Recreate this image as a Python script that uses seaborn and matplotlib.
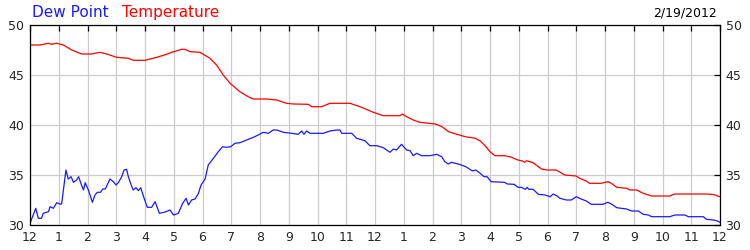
import matplotlib
matplotlib.use("Agg")
import matplotlib.pyplot as plt
import seaborn as sns
import pandas as pd

# Temperature (hours since midnight, degrees)
temp_hours = [0.0, 0.35, 0.64, 0.75, 0.93, 1.16, 1.45, 1.8, 2.14, 2.43, 2.67, 3.01, 3.42, 3.59, 4.0,
              4.41, 4.75, 4.93, 5.28, 5.39, 5.57, 5.91, 6.26, 6.49, 6.72, 6.96, 7.3, 7.59, 7.77, 8.23,
              8.58, 8.92, 9.16, 9.68, 9.8, 10.14, 10.43, 11.13, 11.48, 11.94, 12.29, 12.87, 12.95,
              13.1, 13.33, 13.56, 14.1, 14.33, 14.56, 14.85, 15.14, 15.49, 15.66, 15.83, 16.0, 16.17,
              16.5, 16.69, 16.97, 17.13, 17.2, 17.27, 17.5, 17.68, 17.79, 17.97, 18.3, 18.6, 19.0,
              19.12, 19.35, 19.46, 19.87, 20.1, 20.22, 20.41, 20.75, 20.87, 21.1, 21.33, 21.62,
              22.25, 22.43, 23.53, 23.77, 24.0]
temp_vals = [48.0, 48.0, 48.17, 48.07, 48.17, 48.0, 47.5, 47.1, 47.1, 47.27, 47.1, 46.77, 46.67, 46.47, 46.47,
             46.77, 47.07, 47.27, 47.57, 47.57, 47.33, 47.27, 46.67, 46.0, 45.0, 44.17, 43.33, 42.83, 42.6, 42.6,
             42.5, 42.17, 42.1, 42.07, 41.83, 41.83, 42.17, 42.17, 41.83, 41.27, 40.93, 40.93, 41.1,
             40.83, 40.5, 40.27, 40.1, 39.83, 39.33, 39.07, 38.83, 38.67, 38.4, 37.93, 37.33, 36.93,
             36.93, 36.83, 36.5, 36.4, 36.27, 36.43, 36.23, 35.83, 35.6, 35.5, 35.5, 35.0, 34.9,
             34.67, 34.4, 34.17, 34.17, 34.33, 34.17, 33.77, 33.67, 33.5, 33.5, 33.17, 32.9,
             32.9, 33.1, 33.1, 33.05, 32.83]

# Dew point (hours since midnight, degrees)
dew_hours = [0.0, 0.2, 0.29, 0.4, 0.46, 0.64, 0.7, 0.81, 0.93, 1.04, 1.1, 1.25, 1.33, 1.43, 1.51, 1.62,
             1.69, 1.8, 1.86, 1.92, 2.03, 2.17, 2.26, 2.34, 2.45, 2.53, 2.62, 2.78, 2.9, 2.99, 3.07,
             3.19, 3.27, 3.36, 3.42, 3.51, 3.59, 3.69, 3.77, 3.85, 3.97, 4.08, 4.23, 4.35, 4.5, 4.7,
             4.87, 4.99, 5.16, 5.31, 5.43, 5.51, 5.62, 5.74, 5.86, 5.95, 6.09, 6.2, 6.38, 6.55, 6.7,
             6.84, 6.98, 7.13, 7.3, 7.53, 7.77, 7.94, 8.11, 8.29, 8.46, 8.58, 8.81, 9.1, 9.33, 9.45,
             9.53, 9.62, 9.74, 10.2, 10.43, 10.66, 10.78, 10.84, 11.19, 11.36, 11.65, 11.82, 12.06,
             12.29, 12.52, 12.64, 12.75, 12.92, 13.1, 13.22, 13.33, 13.45, 13.62, 13.91, 14.14, 14.32,
             14.43, 14.55, 14.66, 14.93, 15.16, 15.39, 15.5, 15.66, 15.79, 15.9, 16.04, 16.5, 16.61,
             16.84, 16.97, 17.08, 17.23, 17.29, 17.35, 17.5, 17.68, 17.91, 18.09, 18.2, 18.32, 18.43,
             18.66, 18.83, 19.0, 19.17, 19.35, 19.52, 19.93, 20.1, 20.22, 20.41, 20.75, 20.93, 21.16,
             21.33, 21.51, 21.62, 22.25, 22.43, 22.78, 22.9, 23.42, 23.53, 23.77, 23.88, 24.0]
dew_vals = [30.17, 31.67, 30.67, 30.67, 31.17, 31.33, 31.83, 31.67, 32.23, 32.1, 32.1, 35.5, 34.6, 34.83, 34.27, 34.5,
            34.83, 33.93, 33.5, 34.23, 33.5, 32.27, 33.0, 33.27, 33.27, 33.6, 33.6, 34.6, 34.33, 34.0, 34.23,
            34.83, 35.5, 35.57, 34.83, 34.07, 33.5, 33.73, 33.43, 33.73, 32.67, 31.77, 31.77, 32.33, 31.17, 31.3,
            31.5, 31.0, 31.17, 32.17, 32.67, 32.0, 32.5, 32.6, 33.17, 34.0, 34.6, 36.0, 36.67, 37.33, 37.83,
            37.77, 37.83, 38.17, 38.23, 38.5, 38.77, 39.0, 39.27, 39.17, 39.5, 39.5, 39.27, 39.17, 39.07, 39.4,
            39.07, 39.4, 39.17, 39.17, 39.4, 39.5, 39.5, 39.17, 39.17, 38.67, 38.43, 37.93, 37.93,
            37.73, 37.27, 37.6, 37.5, 38.07, 37.5, 37.43, 36.93, 37.17, 36.93, 36.93, 37.07, 36.83,
            36.33, 36.1, 36.27, 36.07, 35.83, 35.4, 35.5, 35.17, 34.83, 34.83, 34.33, 34.27, 34.1,
            34.07, 33.77, 33.77, 33.57, 33.77, 33.57, 33.57, 33.07, 33.0, 32.83, 33.1, 32.93, 32.67,
            32.5, 32.5, 32.83, 32.6, 32.4, 32.07, 32.07, 32.27, 32.1, 31.73, 31.6, 31.4, 31.4,
            31.07, 31.0, 30.83, 30.83, 31.0, 31.0, 30.83, 30.83, 30.57, 30.5, 30.43, 30.27]

hour_labels = ["12", "1", "2", "3", "4", "5", "6", "7", "8", "9", "10", "11",
               "12", "1", "2", "3", "4", "5", "6", "7", "8", "9", "10", "11", "12"]
y_ticks = [30, 35, 40, 45, 50]

series_names = ["Dew Point", "Temperature"]
series_colors = ["#1a1aff", "#ff0000"]
date_label = "2/19/2012"

sns.set_style("white")
plt.rcParams["font.family"] = ["DejaVu Sans"]

fig = plt.figure(figsize=(7.5, 2.5), dpi=100)
ax = fig.add_axes([0.04, 0.1, 0.92, 0.8])

temp_df = pd.DataFrame({"hour": temp_hours, "value": temp_vals})
dew_df = pd.DataFrame({"hour": dew_hours, "value": dew_vals})
sns.lineplot(data=temp_df, x="hour", y="value", ax=ax, color=series_colors[1], linewidth=0.9)
sns.lineplot(data=dew_df, x="hour", y="value", ax=ax, color=series_colors[0], linewidth=0.9)

ax.set_xlim(0, 24)
ax.set_ylim(30, 50)
ax.set_xticks(range(len(hour_labels)))
ax.set_xticklabels(hour_labels)
ax.set_yticks(y_ticks)
ax.set_xlabel("")
ax.set_ylabel("")
ax.grid(True, color="#cccccc", linewidth=0.9)
ax.set_axisbelow(True)
for s in ax.spines.values():
    s.set_color("black")
    s.set_linewidth(0.9)
ax.tick_params(axis="both", direction="in", length=4, width=0.9, color="black",
               labelsize=9, top=True, right=True, labelright=True, pad=4)

fig.text(0.043, 0.95, series_names[0], color=series_colors[0], fontsize=11, va="center", ha="left")
fig.text(0.163, 0.95, series_names[1], color=series_colors[1], fontsize=11, va="center", ha="left")
fig.text(0.956, 0.95, date_label, color="black", fontsize=9, va="center", ha="right")

fig.savefig("out.png", dpi=100)
